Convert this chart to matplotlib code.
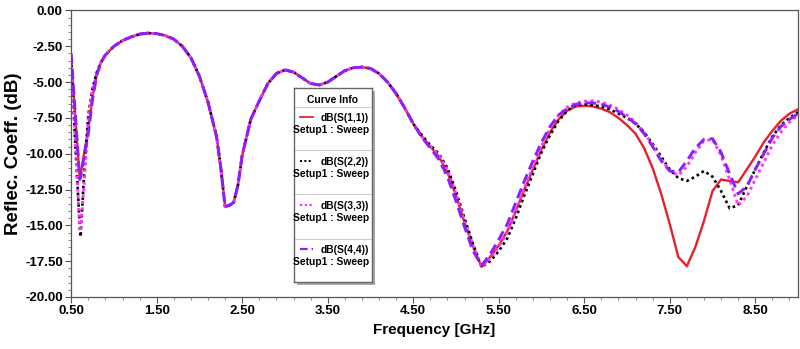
import matplotlib
matplotlib.use("Agg")
import matplotlib.pyplot as plt
from matplotlib.ticker import MultipleLocator, FormatStrFormatter
from matplotlib.patches import Rectangle

plt.rcParams['font.family'] = ['Liberation Sans', 'DejaVu Sans']
plt.rcParams['font.weight'] = 'bold'

freq = [0.50, 0.55, 0.60, 0.61, 0.65, 0.70, 0.75, 0.80, 0.85, 0.90,
        1.00, 1.10, 1.20, 1.30, 1.40, 1.50, 1.60, 1.70, 1.80, 1.90,
        2.00, 2.10, 2.20, 2.25, 2.30, 2.35, 2.40, 2.45, 2.50, 2.60,
        2.70, 2.80, 2.90, 3.00, 3.10, 3.20, 3.30, 3.40, 3.50, 3.60,
        3.70, 3.80, 3.90, 4.00, 4.10, 4.20, 4.30, 4.40, 4.50, 4.60,
        4.70, 4.80, 4.90, 5.00, 5.10, 5.20, 5.30, 5.40, 5.50, 5.60,
        5.70, 5.80, 5.90, 6.00, 6.10, 6.20, 6.30, 6.40, 6.50, 6.60,
        6.70, 6.80, 6.90, 7.00, 7.10, 7.20, 7.30, 7.40, 7.50, 7.60,
        7.70, 7.80, 7.90, 8.00, 8.10, 8.20, 8.30, 8.40, 8.50, 8.60,
        8.70, 8.80, 8.90, 9.00]

s11 = [-3.6, -7.6, -11.7, -11.5, -10.0, -8.3, -6.0, -4.4, -3.6, -3.1,
       -2.5, -2.1, -1.85, -1.65, -1.58, -1.62, -1.75, -2.0, -2.5, -3.3,
       -4.6, -6.4, -8.8, -11.0, -13.7, -13.6, -13.4, -12.2, -10.1, -7.6,
       -6.3, -5.1, -4.4, -4.15, -4.3, -4.7, -5.1, -5.2, -5.0, -4.6,
       -4.2, -4.0, -3.95, -4.05, -4.4, -5.0, -5.8, -6.8, -7.9, -8.8,
       -9.5, -10.2, -11.3, -12.9, -14.8, -16.5, -17.9, -17.2, -16.4, -15.4,
       -14.0, -12.5, -11.1, -9.7, -8.5, -7.6, -7.0, -6.7, -6.65, -6.7,
       -6.85, -7.1, -7.5, -8.0, -8.6, -9.6, -11.0, -12.8, -14.9, -17.2,
       -17.85, -16.5, -14.7, -12.6, -11.8, -11.9, -12.0, -11.1, -10.2, -9.2,
       -8.4, -7.7, -7.2, -6.9]

s22 = [-3.4, -9.6, -15.0, -15.8, -11.5, -7.3, -5.4, -4.3, -3.6, -3.1,
       -2.5, -2.1, -1.85, -1.65, -1.58, -1.62, -1.75, -2.0, -2.5, -3.3,
       -4.6, -6.4, -8.8, -11.0, -13.7, -13.6, -13.4, -12.2, -10.1, -7.6,
       -6.3, -5.1, -4.4, -4.15, -4.3, -4.7, -5.1, -5.2, -5.0, -4.6,
       -4.2, -4.0, -3.95, -4.05, -4.4, -5.0, -5.8, -6.8, -7.9, -8.7,
       -9.4, -10.0, -11.0, -12.6, -14.5, -16.3, -17.9, -17.5, -16.8, -15.9,
       -14.5, -12.9, -11.4, -9.9, -8.7, -7.7, -7.0, -6.6, -6.55, -6.6,
       -6.7, -6.9, -7.2, -7.5, -7.9, -8.5, -9.3, -10.2, -11.1, -11.7,
       -11.9, -11.6, -11.2, -11.6, -12.6, -13.8, -13.6, -12.3, -11.1, -9.9,
       -8.8, -8.0, -7.5, -7.1]

s33 = [-3.5, -9.2, -15.4, -15.4, -12.2, -7.6, -5.5, -4.4, -3.6, -3.1,
       -2.5, -2.1, -1.85, -1.65, -1.58, -1.62, -1.75, -2.0, -2.5, -3.3,
       -4.6, -6.4, -8.8, -11.0, -13.7, -13.6, -13.4, -12.2, -10.1, -7.6,
       -6.3, -5.1, -4.4, -4.15, -4.3, -4.7, -5.1, -5.2, -5.0, -4.6,
       -4.2, -4.0, -3.95, -4.05, -4.4, -5.0, -5.8, -6.8, -7.9, -8.8,
       -9.5, -10.1, -11.1, -12.8, -14.7, -16.4, -17.9, -17.3, -16.5, -15.5,
       -14.0, -12.4, -10.9, -9.5, -8.2, -7.3, -6.75, -6.45, -6.35, -6.3,
       -6.4, -6.6, -6.9, -7.3, -7.8, -8.5, -9.4, -10.4, -11.2, -11.5,
       -10.9, -9.9, -9.1, -9.0, -10.1, -11.8, -13.6, -13.0, -11.8, -10.6,
       -9.4, -8.5, -7.8, -7.3]

s44 = [-3.0, -7.4, -11.8, -11.6, -10.2, -8.6, -6.2, -4.5, -3.6, -3.1,
       -2.5, -2.1, -1.85, -1.65, -1.58, -1.62, -1.75, -2.0, -2.5, -3.3,
       -4.6, -6.4, -8.8, -11.0, -13.7, -13.6, -13.4, -12.2, -10.1, -7.6,
       -6.3, -5.1, -4.4, -4.15, -4.3, -4.7, -5.1, -5.2, -5.0, -4.6,
       -4.2, -4.0, -3.95, -4.05, -4.4, -5.0, -5.8, -6.8, -7.9, -8.85,
       -9.6, -10.4, -11.6, -13.3, -15.1, -16.8, -17.8, -17.0, -16.0, -14.9,
       -13.4, -11.9, -10.5, -9.2, -8.1, -7.3, -6.85, -6.55, -6.45, -6.45,
       -6.55, -6.75, -7.05, -7.45, -7.9, -8.6, -9.5, -10.5, -11.2, -11.3,
       -10.5, -9.6, -9.0, -8.95, -9.9, -11.4, -12.8, -12.3, -11.1, -10.0,
       -8.9, -8.1, -7.6, -7.2]

names = ['dB(S(1,1))', 'dB(S(2,2))', 'dB(S(3,3))', 'dB(S(4,4))']
colors = ['#e8202a', '#000000', '#ff33ff', '#8a1fff']
styles = [dict(ls='-', lw=1.7),
          dict(ls=(0, (1, 1.2)), lw=1.9),
          dict(ls=(0, (1, 1.2)), lw=2.1),
          dict(ls=(0, (3.5, 1.8)), lw=2.1)]

fig = plt.figure(figsize=(8, 3.49), dpi=100)
ax = fig.add_axes([0.089, 0.149, 0.9085, 0.821])

for ys, c, st in zip([s11, s22, s33, s44], colors, styles):
    ax.plot(freq, ys, color=c, **st)

ax.set_xlim(0.5, 9.0)
ax.set_ylim(-20, 0)
ax.xaxis.set_major_locator(MultipleLocator(1.0, offset=0.5))
ax.xaxis.set_minor_locator(MultipleLocator(0.2, offset=0.1))
ax.yaxis.set_major_locator(MultipleLocator(2.5))
ax.yaxis.set_minor_locator(MultipleLocator(0.5))
ax.xaxis.set_major_formatter(FormatStrFormatter('%.2f'))
ax.yaxis.set_major_formatter(FormatStrFormatter('%.2f'))
ax.tick_params(which='major', direction='out', length=4, width=0.8,
               color='#555555', labelsize=9.5, pad=2)
ax.tick_params(which='minor', direction='out', length=2.2, width=0.6,
               color='#777777')
for sp in ax.spines.values():
    sp.set_color('#555555')
    sp.set_linewidth(0.9)
ax.set_xlabel('Frequency [GHz]', fontsize=11, fontweight='bold', labelpad=4)
ax.set_ylabel('Reflec. Coeff. (dB)', fontsize=13.5, fontweight='bold', labelpad=2)

# legend box "Curve Info" drawn in pixel coordinates
W, H = 800.0, 349.0
x0, x1, yt, yb = 294.0, 371.7, 88.3, 281.7
fig.patches.append(Rectangle(((x0 + 3) / W, 1 - (yb + 3) / H), (x1 - x0) / W,
                             (yb - yt) / H, transform=fig.transFigure,
                             facecolor='#a8a8a8', edgecolor='none', zorder=5))
lg = fig.add_axes([x0 / W, 1 - yb / H, (x1 - x0) / W, (yb - yt) / H], zorder=6)
lg.set_xlim(x0, x1)
lg.set_ylim(yb, yt)
lg.set_xticks([])
lg.set_yticks([])
for sp in lg.spines.values():
    sp.set_color('#666666')
    sp.set_linewidth(1.0)
lg.text((x0 + x1) / 2, 100, 'Curve Info', ha='center', va='center',
        fontsize=7.4, fontweight='bold')
for ysep in [106.7, 150.0, 194.3, 239.0]:
    lg.plot([x0, x1], [ysep, ysep], color='#cccccc', lw=0.8)
for i, (nm, c, st) in enumerate(zip(names, colors, styles)):
    yy = 116.5 + 44.1 * i
    lg.plot([300, 313], [yy, yy], color=c, ls=st['ls'], lw=st['lw'] * 0.75)
    lg.text(369, yy + 1.5, nm, ha='right', va='center', fontsize=7.4,
            fontweight='bold')
    lg.text(369, yy + 13.5, 'Setup1 : Sweep', ha='right', va='center',
            fontsize=7.4, fontweight='bold')

fig.savefig('out.png', dpi=100)
